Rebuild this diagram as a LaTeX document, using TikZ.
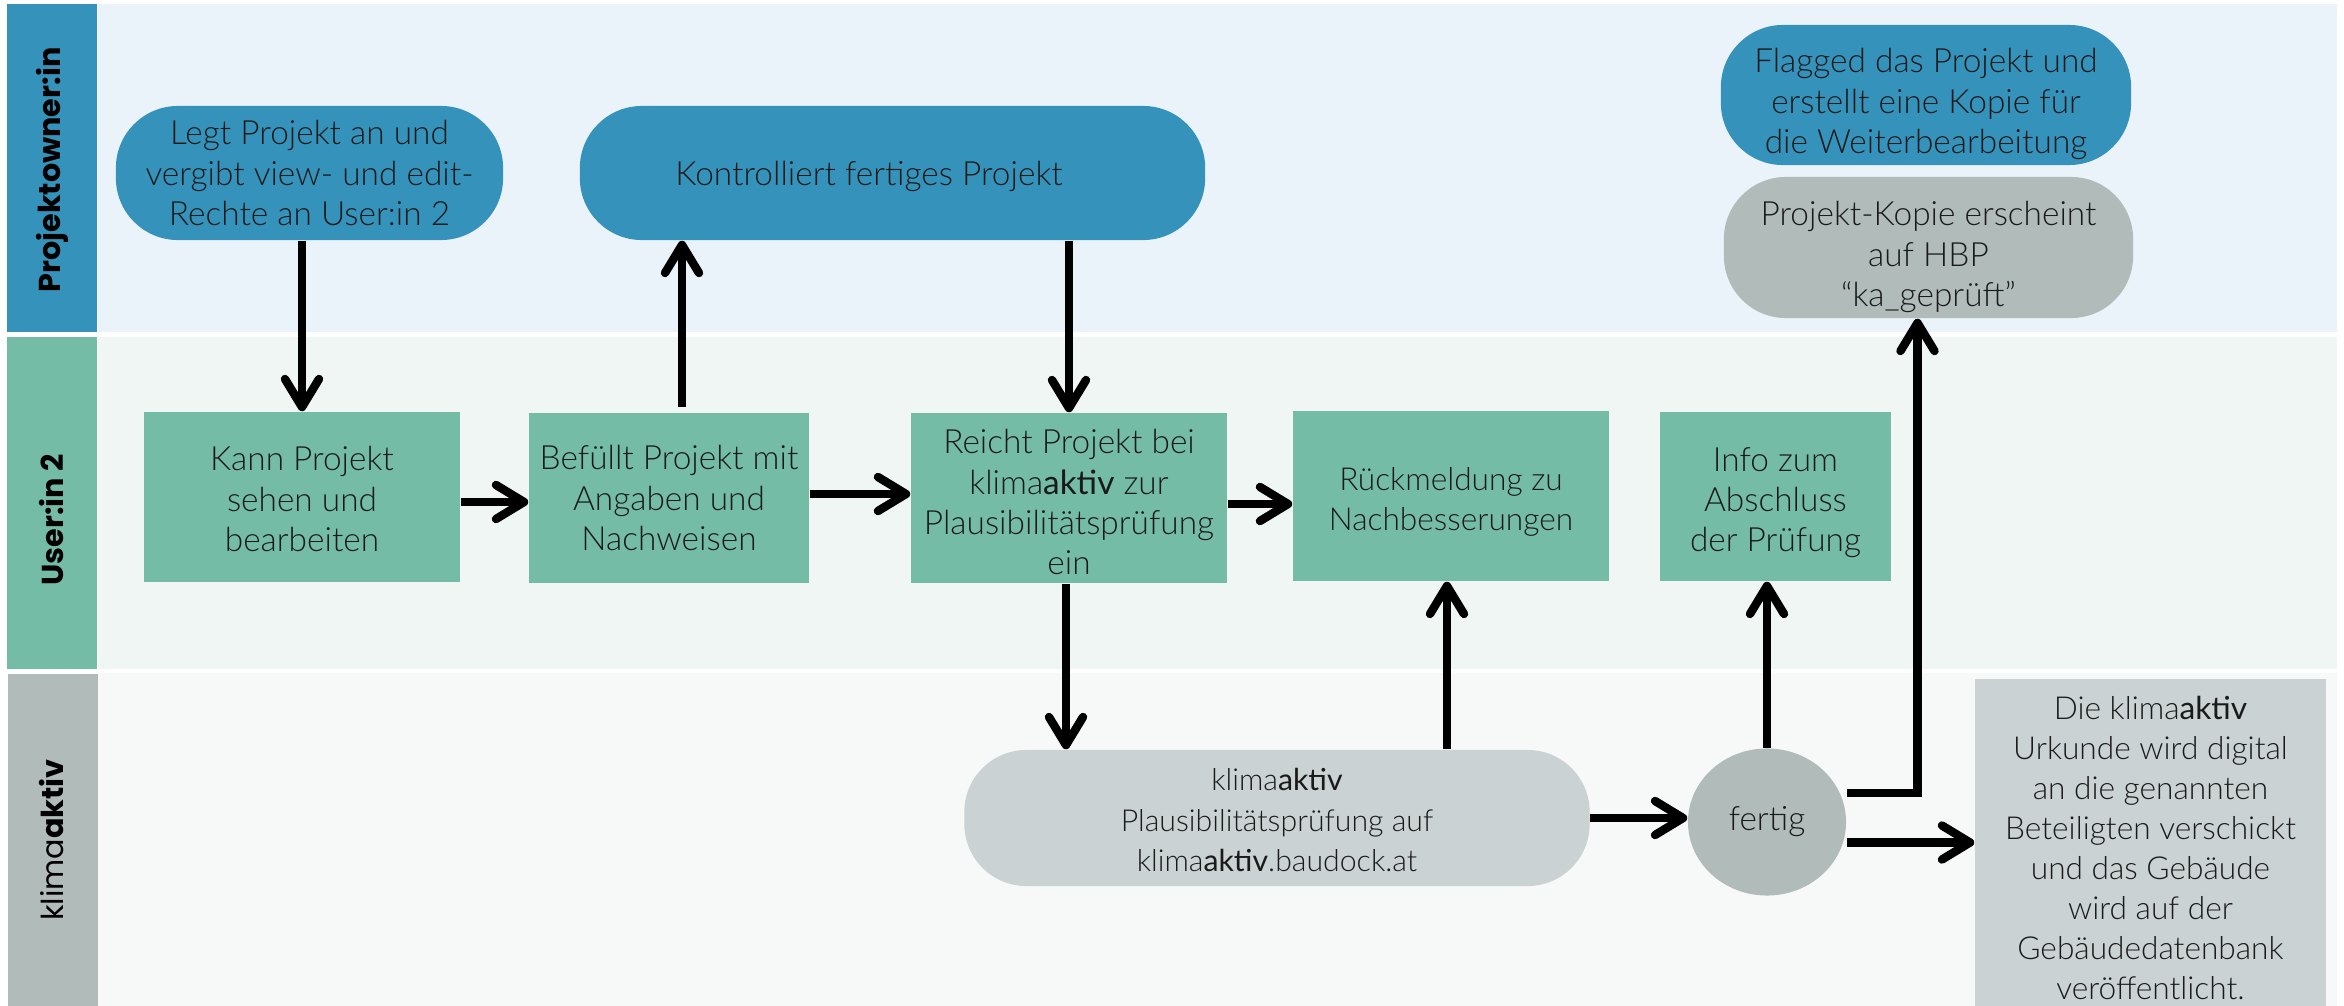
\documentclass[tikz,border=0pt]{standalone}
\usepackage{fontspec}
\setmainfont{Lato Light}
\newfontfamily\latoreg{Lato}
\newfontfamily\hdrfont{Poppins}
\usetikzlibrary{arrows.meta,shapes.geometric}
\definecolor{blueH}{HTML}{3592BA}
\definecolor{laneA}{HTML}{EAF3F9}
\definecolor{greenH}{HTML}{75BCA6}
\definecolor{laneB}{HTML}{F0F6F4}
\definecolor{grayH}{HTML}{B0BBBA}
\definecolor{laneC}{HTML}{F7F9F9}
\definecolor{grayL}{HTML}{CAD2D3}
\definecolor{textc}{HTML}{1A1A1A}
\newcommand\kaword{klima{\latoreg aktiv}}
\begin{document}
\begin{tikzpicture}[x=0.01cm,y=-0.01cm,
  txt/.style={font=\fontsize{9.5}{11.4}\selectfont, text=textc, align=center, inner sep=0pt},
  pill/.style={txt, rectangle, rounded corners=0.62cm},
  boxg/.style={txt, rectangle, fill=greenH},
  hdr/.style={font=\hdrfont\fontsize{8.6}{11}\selectfont, text=black, rotate=90, inner sep=0pt},
  arr/.style={line width=2.4pt, draw=black, -{Straight Barb[length=2.8mm,width=3.4mm,round]}}
]
\useasboundingbox (0,0) rectangle (2344,1006);
\fill[white] (0,0) rectangle (2344,1006);
% lanes
\fill[blueH] (7,4) rectangle (97,332);
\fill[laneA] (98,4) rectangle (2337,332);
\fill[greenH] (7,337) rectangle (97,669);
\fill[laneB] (98,337) rectangle (2337,669);
\fill[grayH] (8,674) rectangle (98,1006);
\fill[laneC] (98,673) rectangle (2337,1006);
\node[hdr] (h1) at (52,170) {\bfseries Projektowner:in};
\node[hdr] (h2) at (52,520) {\bfseries User:in 2};
\node[hdr] (h3) at (52,840) {klima\bfseries aktiv};
% nodes
\node[pill, fill=blueH, minimum width=3.87cm, minimum height=1.34cm] (legt) at (309.5,173)
  {Legt Projekt an und\\vergibt view- und edit-\\Rechte an User:in 2};
\node[pill, fill=blueH, minimum width=6.25cm, minimum height=1.34cm] (kontr) at (892.5,173) {};
\node[txt] (kontrT) at (869,176) {Kontrolliert fertiges Projekt};
\node[pill, fill=blueH, minimum width=4.10cm, minimum height=1.40cm] (flag) at (1926,95) {};
\node[txt] (flagT) at (1926,104)
  {Flagged das Projekt und\\erstellt eine Kopie für\\die Weiterbearbeitung};
\node[pill, fill=grayH, minimum width=4.09cm, minimum height=1.41cm] (kopie) at (1928.5,247.5) {};
\node[txt] (kopieT) at (1928.5,257)
  {Projekt-Kopie erscheint\\auf HBP\\“ka\_geprüft”};
\node[boxg, minimum width=3.16cm, minimum height=1.70cm] (kann) at (302,497) {};
\node[txt] (kannT) at (302,499) {Kann Projekt\\sehen und\\bearbeiten};
\node[boxg, minimum width=2.80cm, minimum height=1.70cm] (bef) at (669,498)
  {Befüllt Projekt mit\\Angaben und\\Nachweisen};
\node[boxg, minimum width=3.16cm, minimum height=1.70cm] (reicht) at (1069,498) {};
\node[txt] (reichtT) at (1069,502)
  {Reicht Projekt bei\\\kaword{} zur\\Plausibilitätsprüfung\\ein};
\node[boxg, minimum width=3.16cm, minimum height=1.70cm] (rueck) at (1451,496) {};
\node[txt, font=\fontsize{9}{11.4}\selectfont] (rueckT) at (1451,502)
  {Rückmeldung zu\\Nachbesserungen};
\node[boxg, minimum width=2.31cm, minimum height=1.69cm] (info) at (1775.5,496.5) {};
\node[txt] (infoT) at (1775.5,503) {Info zum\\Abschluss\\der Prüfung};
\node[pill, fill=grayL, minimum width=6.25cm, minimum height=1.36cm] (plaus) at (1277,818) {};
\node[txt, font=\fontsize{8.6}{11.4}\selectfont] (plausT) at (1277,820)
  {\kaword\\Plausibilitätsprüfung auf\\\kaword.baudock.at};
\node[txt, ellipse, fill=grayH, minimum width=1.58cm, minimum height=1.47cm] (fertig) at (1767,822)
  {fertig};
\node[txt, rectangle, fill=grayL, minimum width=3.51cm, minimum height=3.27cm] (urk) at (2150.5,842.5) {};
\node[txt, font=\fontsize{9}{11.4}\selectfont] (urkT) at (2150.5,848)
  {Die \kaword\\Urkunde wird digital\\an die genannten\\Beteiligten verschickt\\und das Gebäude\\wird auf der\\Gebäudedatenbank\\veröffentlicht.};
% connectors
\draw[arr] (kann.north |- legt.south) -- (kann.north);
\draw[arr] ([yshift=-0.05cm]kann.east) -- ([yshift=-0.05cm]kann.east -| bef.west);
\draw[arr] ([xshift=0.13cm,yshift=0.05cm]bef.north) -- ([xshift=0.13cm]bef.north |- kontr.south);
\draw[arr] (reicht.north |- kontr.south) -- (reicht.north);
\draw[arr] ([yshift=0.04cm]bef.east) -- ([yshift=0.04cm]reicht.west);
\draw[arr] ([yshift=-0.06cm]reicht.east) -- ([yshift=-0.06cm]reicht.east -| rueck.west);
\draw[arr] ([xshift=-0.03cm]reicht.south) -- ([xshift=-0.03cm]reicht.south |- plaus.north);
\draw[arr] ([xshift=-0.04cm]rueck.south |- plaus.north) -- ([xshift=-0.04cm]rueck.south);
\draw[arr] (plaus.east) -- (plaus.east -| fertig.west);
\draw[arr] (fertig.north) -- (fertig.north |- info.south);
\draw[arr] ([yshift=0.29cm]fertig.east) -| ([xshift=-0.11cm]kopie.south);
\draw[arr] (fertig.east |- urk.west) -- (urk.west);
\end{tikzpicture}
\end{document}
